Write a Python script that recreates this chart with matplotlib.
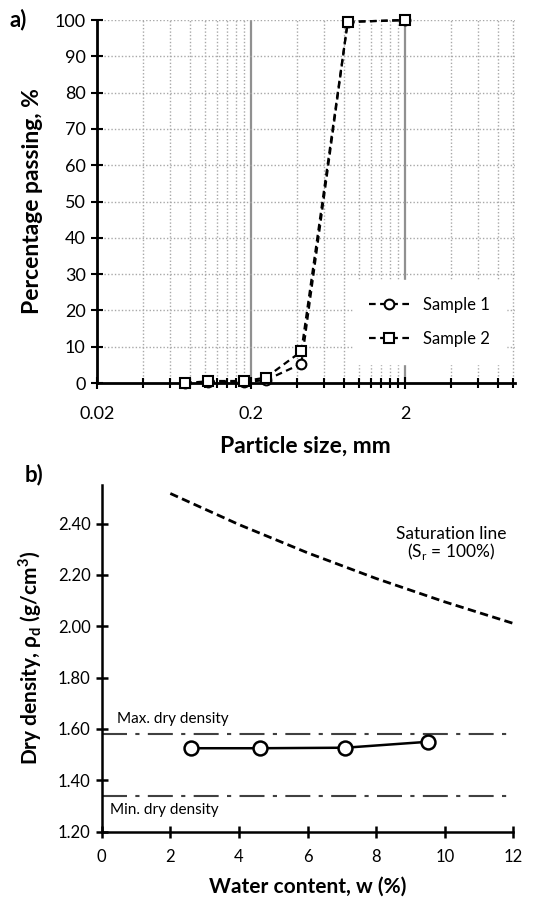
import matplotlib
matplotlib.use("Agg")
import matplotlib.pyplot as plt
from matplotlib.lines import Line2D
from matplotlib.ticker import FixedLocator, NullFormatter

plt.rcParams["font.family"] = ["Lato", "DejaVu Sans"]

# a) grading curves
sieve_mm = [0.075, 0.106, 0.18, 0.25, 0.425, 0.85, 2.0]
sample1_pass = [0.0, 0.2, 0.3, 0.8, 5.3, 99.5, 100.0]
sample2_pass = [0.0, 0.5, 0.5, 1.5, 8.7, 99.5, 100.0]

# b) compaction data
water_content = [2.6, 4.6, 7.1, 9.5]
dry_density = [1.525, 1.525, 1.527, 1.55]
sat_w = [2, 4, 6, 8, 10, 12]
sat_rho = [2.517, 2.396, 2.286, 2.186, 2.095, 2.011]
max_dry = 1.58
min_dry = 1.34

fig = plt.figure(figsize=(5.44, 9.0), dpi=100)

# ---------------- panel a ----------------
ax1 = fig.add_axes([0.178, 0.5744, 0.768, 0.4033])
ax1.set_xscale("log")
ax1.set_xlim(0.02, 10.3)
ax1.set_ylim(0, 100)

majors = [0.02, 0.2, 2]
minors = [0.02 * k * 10 ** n for n in range(3) for k in range(2, 10)]
minors = [m for m in minors if m <= 10.01]
ax1.xaxis.set_major_locator(FixedLocator(majors))
ax1.xaxis.set_minor_locator(FixedLocator(minors))
ax1.xaxis.set_minor_formatter(NullFormatter())
ax1.set_xticklabels(["0.02", "0.2", "2"])
ax1.set_yticks(range(0, 101, 10))

for m in minors:
    ax1.axvline(m, color="#a8a8a8", lw=1.0, ls=(0, (1, 1.5)), zorder=0)
for m in [0.2, 2]:
    ax1.axvline(m, color="#909090", lw=1.6, zorder=0)
for v in range(10, 101, 10):
    ax1.axhline(v, color="#a8a8a8", lw=1.0, ls=(0, (1, 1.5)), zorder=0)

dash = (0, (3, 2))
# draw segment by segment so the dash phase of both samples lines up
for vals in (sample1_pass, sample2_pass):
    for i in range(len(sieve_mm) - 1):
        ax1.plot(sieve_mm[i:i + 2], vals[i:i + 2], ls=dash, color="black",
                 lw=1.6, zorder=2, clip_on=False)
ax1.plot(sieve_mm, sample1_pass, ls="none", marker="o", ms=7, mfc="white",
         mec="black", mew=1.5, zorder=3, clip_on=False)
ax1.plot(sieve_mm, sample2_pass, ls="none", marker="s", ms=7, mfc="white",
         mec="black", mew=1.5, zorder=3, clip_on=False)

handles = [
    Line2D([], [], ls=dash, color="black", lw=1.6, marker="o", ms=7,
           mfc="white", mec="black", mew=1.5, label="Sample 1"),
    Line2D([], [], ls=dash, color="black", lw=1.6, marker="s", ms=7,
           mfc="white", mec="black", mew=1.5, label="Sample 2"),
]

for s in ["top", "right"]:
    ax1.spines[s].set_visible(False)
for s in ["left", "bottom"]:
    ax1.spines[s].set_linewidth(2)
ax1.tick_params(axis="both", which="both", direction="inout", width=1.5,
                labelsize=13, colors="black")
ax1.tick_params(axis="both", which="major", length=9)
ax1.tick_params(axis="x", which="minor", length=7)
ax1.tick_params(axis="x", pad=12)

leg = ax1.legend(handles=handles, loc="lower right", bbox_to_anchor=(1.0, 0.03),
                 fontsize=12, frameon=True, fancybox=False, handlelength=2.4,
                 borderpad=1.0, labelspacing=1.1)
leg.get_frame().set_edgecolor("white")
leg.get_frame().set_facecolor("white")
leg.get_frame().set_alpha(1)

ax1.set_xlabel("Particle size, mm", fontsize=16.5, fontweight="bold", labelpad=10)
ax1.set_ylabel("Percentage passing, %", fontsize=16.5, fontweight="bold", labelpad=8)
fig.text(0.018, 0.978, "a)", fontsize=16, fontweight="bold", va="center")

# ---------------- panel b ----------------
ax2 = fig.add_axes([0.187, 0.0759, 0.7566, 0.3852])
ax2.set_xlim(0, 12)
ax2.set_ylim(1.2, 2.55)
ax2.set_xticks(range(0, 13, 2))
yt = [1.2, 1.4, 1.6, 1.8, 2.0, 2.2, 2.4]
ax2.set_yticks(yt)
ax2.set_yticklabels([f"{v:.2f}" for v in yt])

ax2.plot(sat_w, sat_rho, ls=(0, (3, 1.6)), color="black", lw=2)
ax2.axhline(max_dry, color="#404040", lw=1.5, ls=(0, (12, 4, 2, 4)))
ax2.axhline(min_dry, color="#404040", lw=1.5, ls=(0, (12, 4, 2, 4)))
ax2.plot(water_content, dry_density, color="black", lw=1.8, marker="o", ms=10,
         mfc="white", mec="black", mew=1.8, zorder=3)

ax2.text(0.45, 1.64, "Max. dry density", fontsize=11, va="center")
ax2.text(0.25, 1.285, "Min. dry density", fontsize=11, va="center")
ax2.text(10.2, 2.36, "Saturation line", fontsize=12.5, ha="center", va="center")
ax2.text(10.2, 2.29, "(S$_\\mathregular{r}$ = 100%)", fontsize=12.5, ha="center", va="center")

for s in ["top", "right"]:
    ax2.spines[s].set_visible(False)
for s in ["left", "bottom"]:
    ax2.spines[s].set_linewidth(1.8)
ax2.tick_params(axis="both", direction="inout", length=9, width=1.8, labelsize=12)
ax2.tick_params(axis="x", pad=8)

ax2.set_xlabel("Water content, w (%)", fontsize=15, fontweight="bold", labelpad=8)
ax2.set_ylabel("Dry density, ρ$_\\mathregular{d}$ (g/cm$^\\mathregular{3}$)",
               fontsize=15, fontweight="bold", labelpad=10)
fig.text(0.045, 0.473, "b)", fontsize=16, fontweight="bold", va="center")

fig.savefig("out.png", dpi=100)
